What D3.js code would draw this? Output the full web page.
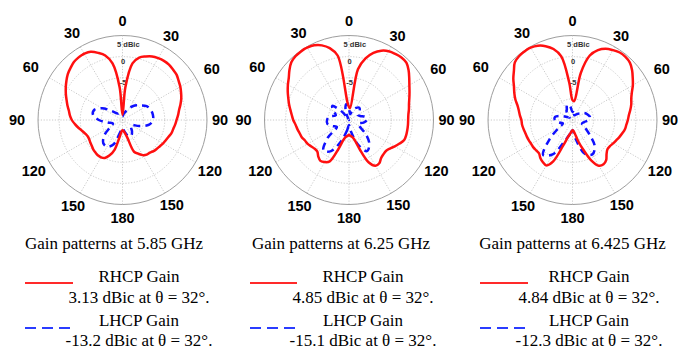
<!DOCTYPE html>
<html>
<head>
<meta charset="utf-8">
<script src="https://cdn.jsdelivr.net/npm/d3@7"></script>
<style>
  html, body { margin: 0; padding: 0; background: #fff; }
  svg { display: block; }
</style>
</head>
<body>
<svg id="chart" width="678" height="350"></svg>
<script>
// Elevation angle theta (degrees), measured from zenith, positive towards the left half.
const rhcpAngles = [...d3.range(180, 30, -5), 32, ...d3.range(30, -180, -5)];
const lhcpAngles = [...d3.range(180, 30, -10), 32, ...d3.range(30, -180, -10)];

// RHCP gain (dBic) at 5.85, 6.25 and 6.425 GHz
const rhcp585 = [
  -12.6, -12.2, -10.8, -7.7, -6.1, -5.1, -4.8, -4.8, -5.0, -5.2, -5.5, -5.7,
  -5.9, -5.9, -5.6, -5.1, -4.4, -3.7, -3.0, -2.5, -2.1, -1.5, -0.9, -0.2,
  0.5, 1.2, 1.9, 2.4, 2.9, 3.1, 3.13, 3.1, 2.8, 1.9, 0.8, -1.4, -7.2,
  -13.8, -7.2, -1.4, 0.3, 1.0, 1.6, 1.9, 2.1, 2.1, 1.9, 1.7, 1.2,
  0.8, 0.3, -0.2, -0.8, -1.4, -1.8, -2.2, -2.5, -2.8, -3.0, -3.4, -3.7,
  -3.9, -4.2, -4.4, -4.6, -4.9, -5.0, -5.4, -6.2, -7.0, -10.8, -11.9, -12.4
];
const rhcp625 = [
  -11.5, -11.2, -11.0, -10.3, -7.7, -4.2, -3.5, -3.2, -3.7, -4.4, -4.4, -4.1,
  -3.7, -3.5, -3.1, -2.9, -2.6, -2.3, -1.8, -1.4, -0.9, -0.3, 0.3, 1.0,
  1.7, 2.4, 3.4, 4.3, 4.7, 4.8, 4.85, 4.8, 4.5, 3.8, 2.6, 0.5, -10.8,
  -11.9, -12.2, -2.8, 0.1, 1.9, 3.1, 3.8, 4.1, 4.3, 4.2, 3.4, 2.4,
  1.5, 0.8, 0.2, -0.3, -0.6, -0.9, -1.0, -1.0, -1.0, -1.0, -1.1, -1.8,
  -2.5, -3.2, -3.6, -3.5, -3.2, -2.5, -2.5, -3.9, -7.7, -10.3, -11.0, -11.2
];
const rhcp6425 = [
  -12.6, -12.2, -11.7, -10.8, -8.6, -4.2, -2.6, -2.8, -3.2, -3.8, -3.8, -3.7,
  -3.7, -3.6, -3.5, -3.4, -3.2, -3.0, -2.9, -2.5, -2.1, -1.5, -0.6, 0.2,
  1.0, 2.1, 3.1, 4.3, 4.7, 4.8, 4.84, 4.8, 4.4, 3.6, 2.4, 0.3, -6.1,
  -10.3, -10.5, -3.7, 0.8, 2.6, 3.6, 4.1, 4.5, 4.5, 4.2, 3.4, 2.4,
  1.5, 0.5, -0.2, -0.6, -1.1, -1.6, -1.9, -2.2, -2.4, -2.8, -3.2, -3.6,
  -3.9, -4.2, -4.2, -3.6, -2.6, -2.2, -2.5, -4.4, -7.5, -9.8, -11.7, -12.4
];

// LHCP gain (dBic) at the same frequencies
const lhcp585 = [
  -13.1, -12.2, -8.9, -7.7, -7.9, -9.4, -11.7, -12.6, -11.5, -9.4, -7.9, -7.9,
  -9.4, -11.7, -12.9, -13.2, -13.2, -13.6, -13.8,
  -14.1, -13.6, -12.9, -11.7, -10.5, -9.6, -8.4, -7.9, -7.7, -7.8, -8.6, -10.8,
  -12.6, -12.4, -11.5, -10.8, -11.0, -12.2
];
const lhcp625 = [
  -13.8, -12.6, -9.8, -6.5, -5.6, -8.4, -11.7, -10.8, -9.8, -9.8, -10.3, -11.7,
  -10.8, -9.8, -12.5, -15.1, -14.8, -12.6, -11.2,
  -12.2, -13.6, -12.6, -11.7, -11.2, -11.7, -12.6, -12.2, -11.0, -10.8, -11.5, -12.6,
  -12.2, -9.8, -7.5, -6.5, -8.9, -12.2
];
const lhcp6425 = [
  -12.6, -11.7, -9.8, -5.6, -4.2, -7.9, -11.2, -12.6, -11.7, -10.8, -10.8, -12.2,
  -13.6, -14.1, -13.1, -12.3, -12.3, -11.2, -11.7,
  -13.1, -12.6, -13.8, -13.6, -13.1, -12.6, -11.7, -11.2, -10.8, -11.2, -12.2, -12.6,
  -11.7, -9.8, -6.8, -5.6, -6.5, -10.3
];

const frequencies = ["5.85", "6.25", "6.425"];
const rhcpSeries = [rhcp585, rhcp625, rhcp6425];
const lhcpSeries = [lhcp585, lhcp625, lhcp6425];
const rhcpPeak = ["3.13", "4.85", "4.84"];
const lhcpAtPeak = ["-13.2", "-15.1", "-12.3"];
const peakTheta = 32;

const angleTicks = [0, 30, 60, 90, 120, 150, 180, -30, -60, -90, -120, -150];
const spokeAngles = [0, 30, 60, 90, 120, 150];
const ringLevels = [-10, -5, 0];
const ringLabels = [["5 dBic", 5], ["0", 0], ["-5", -5]];
const gainDomain = [-15, 5];

// ---- layout ----
const panels = [
  { cx: 122.5, titleX: 114, lineX: [25, 73],   textX: 139 },
  { cx: 349,   titleX: 341, lineX: [250, 297], textX: 363 },
  { cx: 572.5, titleX: 572.5, lineX: [480, 528], textX: 589 }
];
const cy = 120;
const R = 84.5;
// distance of each angle label's centre from the pole
const labelDist = { "0": 99, "30": 97, "60": 103, "90": 97.5, "120": 101, "150": 98.5,
                    "180": 98, "-30": 101, "-60": 106, "-90": 105.5, "-120": 102.5, "-150": 99 };

const svg = d3.select("#chart");
const r = d3.scaleLinear().domain(gainDomain).range([0, R]).clamp(true);
const rad = d => -d * Math.PI / 180;   // theta positive to the left

const line = d3.lineRadial()
  .angle(d => rad(d[0]))
  .radius(d => r(d[1]))
  .curve(d3.curveCatmullRomClosed.alpha(0.5));

const sansBold = "'Liberation Sans', Arial, Helvetica, sans-serif";
const serif = "'Liberation Serif', 'Times New Roman', Times, serif";

panels.forEach((p, i) => {
  const g = svg.append("g").attr("transform", `translate(${p.cx},${cy})`);

  // grid: dotted rings and spokes, solid outer circle
  g.selectAll("circle.ring").data(ringLevels).join("circle")
    .attr("class", "ring")
    .attr("r", d => r(d))
    .attr("fill", "none")
    .attr("stroke", "#bdbdbd")
    .attr("stroke-width", 0.8)
    .attr("stroke-dasharray", "1.2,1.6");

  g.selectAll("line.spoke").data(spokeAngles).join("line")
    .attr("class", "spoke")
    .attr("x1", d => -R * Math.sin(d * Math.PI / 180))
    .attr("y1", d => R * Math.cos(d * Math.PI / 180))
    .attr("x2", d => R * Math.sin(d * Math.PI / 180))
    .attr("y2", d => -R * Math.cos(d * Math.PI / 180))
    .attr("stroke", "#bdbdbd")
    .attr("stroke-width", 0.8)
    .attr("stroke-dasharray", "1.2,1.6");

  g.append("circle")
    .attr("r", r(gainDomain[1]))
    .attr("fill", "none")
    .attr("stroke", "#9e9e9e")
    .attr("stroke-width", 1);

  // radial gain labels
  g.selectAll("text.rlab").data(ringLabels).join("text")
    .attr("class", "rlab")
    .attr("x", d => d[1] === 5 ? 5.8 : 0.5)
    .attr("y", d => -r(d[1]) + (d[1] === 5 ? 8.5 : 4.5))
    .attr("text-anchor", "middle")
    .attr("dominant-baseline", "central")
    .attr("font-family", sansBold)
    .attr("font-weight", "bold")
    .attr("font-size", 7.5)
    .attr("fill", "#333")
    .text(d => d[0]);

  // angle labels
  g.selectAll("text.alab").data(angleTicks).join("text")
    .attr("class", "alab")
    .attr("x", d => labelDist[d] * Math.sin(d * Math.PI / 180))
    .attr("y", d => -labelDist[d] * Math.cos(d * Math.PI / 180))
    .attr("text-anchor", "middle")
    .attr("dominant-baseline", "central")
    .attr("font-family", sansBold)
    .attr("font-weight", "bold")
    .attr("font-size", 14.5)
    .attr("fill", "#000")
    .text(d => Math.abs(d));

  // gain patterns
  const rh = rhcpAngles.map((a, k) => [a, rhcpSeries[i][k]]);
  const lh = lhcpAngles.map((a, k) => [a, lhcpSeries[i][k]]);

  g.append("path")
    .attr("d", line(lh))
    .attr("fill", "none")
    .attr("stroke", "#1010ff")
    .attr("stroke-width", 2.5)
    .attr("stroke-dasharray", "7,5");

  g.append("path")
    .attr("d", line(rh))
    .attr("fill", "none")
    .attr("stroke", "#ff1010")
    .attr("stroke-width", 2.5);

  // caption and legend
  const txt = (x, y, s) => svg.append("text")
    .attr("x", x).attr("y", y)
    .attr("text-anchor", "middle")
    .attr("font-family", serif)
    .attr("font-size", 17)
    .attr("fill", "#000")
    .text(s);

  txt(p.titleX, 249, `Gain patterns at ${frequencies[i]} GHz`);
  txt(p.textX, 282, "RHCP Gain");
  txt(p.textX, 303, `${rhcpPeak[i]} dBic at \u03B8 = ${peakTheta}\u00B0.`);
  txt(p.textX, 326, "LHCP Gain");
  txt(p.textX, 346, `${lhcpAtPeak[i]} dBic at \u03B8 = ${peakTheta}\u00B0.`);

  svg.append("line")
    .attr("x1", p.lineX[0]).attr("x2", p.lineX[1])
    .attr("y1", 283).attr("y2", 283)
    .attr("stroke", "#ff2a2a")
    .attr("stroke-width", 2);

  svg.append("line")
    .attr("x1", p.lineX[0]).attr("x2", p.lineX[1])
    .attr("y1", 328).attr("y2", 328)
    .attr("stroke", "#2a3cff")
    .attr("stroke-width", 2)
    .attr("stroke-dasharray", "11,6");
});
</script>
</body>
</html>
